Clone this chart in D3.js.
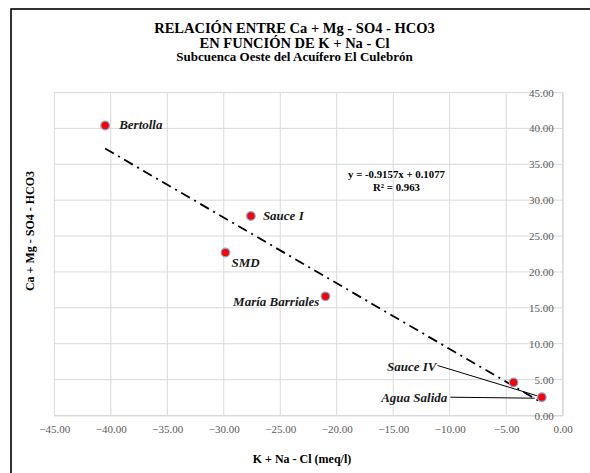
<!DOCTYPE html>
<html><head><meta charset="utf-8">
<script src="https://cdn.jsdelivr.net/npm/d3@7"></script>
<style>
html,body{margin:0;padding:0;background:#fff;}
svg{display:block;}
svg text{font-family:"Liberation Serif", serif;}
</style></head>
<body>
<svg id="chart" width="590" height="473"></svg>
<script>
// ---- data ----
const titleLines = ["RELACIÓN ENTRE Ca + Mg - SO4 - HCO3", "EN FUNCIÓN DE K + Na - Cl", "Subcuenca Oeste del Acuífero El Culebrón"];
const xTitle = "K + Na - Cl (meq/l)";
const yTitle = "Ca + Mg - SO4 - HCO3";
const names = ["Bertolla", "Sauce I", "SMD", "María Barriales", "Sauce IV", "Agua Salida"];
const xVals = [-40.5, -27.6, -29.85, -21.0, -4.35, -1.85];
const yVals = [40.4, 27.8, 22.7, 16.6, 4.6, 2.55];
const xTicks = [-45, -40, -35, -30, -25, -20, -15, -10, -5, 0];
const yTicks = [0, 5, 10, 15, 20, 25, 30, 35, 40, 45];
const trendSlope = -0.9157;
const trendIntercept = 0.1077;
const trendR2 = 0.963;

// ---- layout / styles (not data) ----
const labelLayout = [
  {dx: 14, dy: 3, anchor: "start"},
  {dx: 12, dy: 4, anchor: "start"},
  {dx: 6, dy: 14, anchor: "start"},
  {dx: -6, dy: 10, anchor: "end"},
  {dx: -77, dy: -11.5, anchor: "end", leader: {x1: 1, y1: -5.5, toIndex: 5, ex: -5, ey: -1.5}},
  {dx: -94.5, dy: 5, anchor: "end", leader: {x1: 3, y1: -5, toIndex: 5, ex: -7, ey: 1}}
];
const FONT = "Liberation Serif";

const svg = d3.select("#chart");
const x = d3.scaleLinear().domain([-45, 0]).range([54.3, 562.7]);
const y = d3.scaleLinear().domain([0, 45]).range([415.5, 92.5]);

// outer frame
svg.append("rect").attr("x", 11).attr("y", 9).attr("width", 600).attr("height", 500)
  .attr("fill", "none").attr("stroke", "#000").attr("stroke-width", 1.6);

// titles
const tSizes = [14.5, 14.5, 13];
const tBase = [33.3, 47.8, 61.2];
titleLines.forEach((t, i) => {
  svg.append("text").attr("x", 294.5).attr("y", tBase[i]).attr("text-anchor", "middle")
    .attr("font-family", FONT).attr("font-weight", "bold").attr("font-size", tSizes[i])
    .attr("fill", "#000").text(t);
});

// grid
const grid = svg.append("g");
grid.selectAll("line.v").data(xTicks).join("line")
  .attr("x1", d => x(d)).attr("x2", d => x(d)).attr("y1", y(45)).attr("y2", y(0))
  .attr("stroke", "#d9d9d9").attr("stroke-width", 1);
grid.selectAll("line.h").data(yTicks).join("line")
  .attr("x1", x(-45)).attr("x2", x(0)).attr("y1", d => y(d)).attr("y2", d => y(d))
  .attr("stroke", "#d9d9d9").attr("stroke-width", 1);

// axes (x at y=0, y at x=0)
const xAxis = d3.axisBottom(x).tickValues(xTicks).tickFormat(d3.format(".2f")).tickSize(0).tickPadding(10);
const gx = svg.append("g").attr("transform", `translate(0,${y(0)})`).call(xAxis)
  .attr("font-family", FONT);
gx.select(".domain").attr("stroke", "#d9d9d9");
gx.selectAll("text").attr("font-family", FONT).attr("font-size", 11).attr("fill", "#595959");

const yAxis = d3.axisLeft(y).tickValues(yTicks).tickFormat(d3.format(".2f")).tickSize(0).tickPadding(9);
const gy = svg.append("g").attr("transform", `translate(${x(0)},0)`).call(yAxis)
  .attr("font-family", FONT);
gy.select(".domain").attr("stroke", "#d9d9d9");
gy.selectAll("text").attr("font-family", FONT).attr("font-size", 11).attr("fill", "#595959");

// axis titles
svg.append("text").attr("x", 302).attr("y", 462.5).attr("text-anchor", "middle")
  .attr("font-family", FONT).attr("font-weight", "bold").attr("font-size", 12).text(xTitle);
svg.append("text").attr("transform", "translate(34,231) rotate(-90)").attr("text-anchor", "middle")
  .attr("font-family", FONT).attr("font-weight", "bold").attr("font-size", 12).text(yTitle);

// trendline
const xMin = d3.min(xVals), xMax = d3.max(xVals);
svg.append("line")
  .attr("x1", x(xMin)).attr("y1", y(trendSlope * xMin + trendIntercept))
  .attr("x2", x(xMax)).attr("y2", y(trendSlope * xMax + trendIntercept))
  .attr("stroke", "#000").attr("stroke-width", 1.8).attr("stroke-dasharray", "10,5,2,5");

// equation
svg.append("text").attr("x", 396.5).attr("y", 178).attr("text-anchor", "middle")
  .attr("font-family", FONT).attr("font-weight", "bold").attr("font-size", 10.8)
  .text(`y = ${trendSlope}x + ${trendIntercept}`);
svg.append("text").attr("x", 396.5).attr("y", 190.5).attr("text-anchor", "middle")
  .attr("font-family", FONT).attr("font-weight", "bold").attr("font-size", 10.8)
  .text(`R² = ${trendR2}`);

// points
const pts = names.map((n, i) => ({name: n, x: xVals[i], y: yVals[i], lay: labelLayout[i]}));

// leader lines
pts.forEach(p => {
  if (p.lay.leader) {
    const L = p.lay.leader;
    const tgt = pts[L.toIndex];
    svg.append("line")
      .attr("x1", x(p.x) + p.lay.dx + L.x1).attr("y1", y(p.y) + p.lay.dy + L.y1)
      .attr("x2", x(tgt.x) + L.ex).attr("y2", y(tgt.y) + L.ey)
      .attr("stroke", "#000").attr("stroke-width", 1);
  }
});

svg.selectAll("circle.pt").data(pts).join("circle")
  .attr("cx", d => x(d.x)).attr("cy", d => y(d.y)).attr("r", 4.3)
  .attr("fill", "#ff0000").attr("stroke", "#7fa7d9").attr("stroke-width", 1.3);

svg.selectAll("text.lbl").data(pts).join("text")
  .attr("x", d => x(d.x) + d.lay.dx).attr("y", d => y(d.y) + d.lay.dy)
  .attr("text-anchor", d => d.lay.anchor)
  .attr("font-family", FONT).attr("font-weight", "bold").attr("font-style", "italic")
  .attr("font-size", 13).attr("fill", "#1a1a1a").text(d => d.name);
</script>
</body></html>
